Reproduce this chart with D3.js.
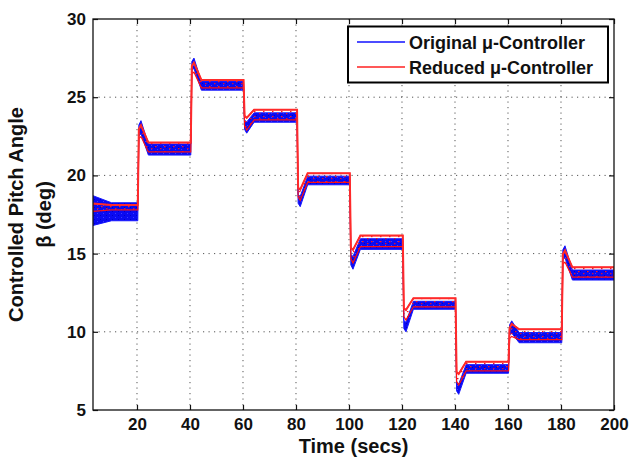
<!DOCTYPE html>
<html>
<head>
<meta charset="utf-8">
<script src="https://cdn.jsdelivr.net/npm/d3@7"></script>
<style>
  html, body { margin: 0; padding: 0; background: #fff; }
  svg text { font-family: "Liberation Sans", Arial, Helvetica, sans-serif; font-weight: bold; fill: #111; }
</style>
</head>
<body>
<svg id="chart" width="631" height="463"></svg>
<script>
// Axis ranges and ticks
const xDomain = [3.4, 200];
const yDomain = [5, 30];
const xTicks = [20, 40, 60, 80, 100, 120, 140, 160, 180, 200];
const yTicks = [5, 10, 15, 20, 25, 30];

// Set-point changes (s): start of every constant segment
const stepTimes = [3.4, 20.3, 40.3, 60.2, 80.4, 100.3, 120.3, 140.2, 160.2, 180.3];

// Original mu-controller: settled oscillation band and transient extreme per segment (deg)
const blueLow     = [17.1, 21.3, 25.45, 23.4, 19.4, 15.27, 11.44, 7.35, 9.3, 13.31];
const blueHigh    = [18.25, 22.0, 26.0, 24.0, 19.95, 15.95, 11.95, 7.9, 9.95, 13.95];
const blueExtreme = [null, 23.5, 27.5, 22.7, 18.0, 14.0, 10.0, 6.0, 10.7, 15.5];
const blueStart   = [16.8, 18.7];

// Reduced mu-controller
const redLow      = [17.8, 21.5, 25.6, 23.55, 19.55, 15.45, 11.6, 7.5, 9.5, 13.5];
const redHigh     = [18.1, 22.1, 26.1, 24.2, 20.13, 16.15, 12.14, 8.09, 10.16, 14.12];
const redExtreme  = [null, 23.2, 27.2, 22.9, 18.4, 14.4, 10.75, 6.6, 10.5, 15.2];
const redStart    = [17.7, 18.2];

const legendLabels = ["Original \u03bc-Controller", "Reduced \u03bc-Controller"];

const svg = d3.select("#chart");
const plot = { left: 93, right: 614, top: 19, bottom: 410 };

const x = d3.scaleLinear().domain(xDomain).range([plot.left, plot.right]);
const y = d3.scaleLinear().domain(yDomain).range([plot.bottom, plot.top]);

// Build the envelope (t, lo, hi) of one response from its segment arrays
function envelope(low, high, extreme, start) {
  const rows = [];
  stepTimes.forEach((t0, i) => {
    const t1 = i < stepTimes.length - 1 ? stepTimes[i + 1] : xDomain[1];
    const w = high[i] - low[i];
    if (i === 0) {
      rows.push({ t: t0, lo: start[0], hi: start[1] });
      rows.push({ t: t0 + 7, lo: low[i], hi: high[i] });
    } else {
      const e = extreme[i];
      if (e > high[i]) {
        rows.push({ t: t0 + 0.4, lo: e - w * 1.4, hi: e - w * 0.4 });
        rows.push({ t: t0 + 1.2, lo: e - w * 1.2, hi: e });
      } else {
        rows.push({ t: t0 + 0.4, lo: e + w * 0.4, hi: e + w * 1.4 });
        rows.push({ t: t0 + 1.2, lo: e, hi: e + w * 1.2 });
      }
      rows.push({ t: t0 + 4, lo: low[i], hi: high[i] });
    }
    rows.push({ t: t1, lo: low[i], hi: high[i] });
  });
  return rows;
}

const area = d3.area()
  .x(d => x(d.t))
  .y0(d => y(d.lo))
  .y1(d => y(d.hi));
const topLine = d3.line().x(d => x(d.t)).y(d => y(d.hi));

const defs = svg.append("defs");
defs.append("clipPath").attr("id", "plotClip")
  .append("rect")
  .attr("x", plot.left).attr("y", plot.top)
  .attr("width", plot.right - plot.left).attr("height", plot.bottom - plot.top);

// speckle textures for the oscillating traces
const bp = defs.append("pattern").attr("id", "blueTex")
  .attr("patternUnits", "userSpaceOnUse").attr("width", 6).attr("height", 4);
bp.append("rect").attr("width", 6).attr("height", 4).attr("fill", "#0a0af2");
bp.append("rect").attr("x", 1).attr("y", 1).attr("width", 1).attr("height", 1).attr("fill", "#3c3cff");
bp.append("rect").attr("x", 4).attr("y", 3).attr("width", 1).attr("height", 1).attr("fill", "#0000c8");

const rp = defs.append("pattern").attr("id", "redTex")
  .attr("patternUnits", "userSpaceOnUse").attr("width", 9).attr("height", 5);
rp.append("rect").attr("x", 2).attr("y", 1).attr("width", 1.5).attr("height", 1.2).attr("fill", "#ff1a1a");
rp.append("rect").attr("x", 7).attr("y", 3).attr("width", 1.5).attr("height", 1.2).attr("fill", "#e01030");

// grid
const grid = svg.append("g").attr("stroke", "#555").attr("stroke-width", 1)
  .attr("stroke-dasharray", "1.2,4.3");
xTicks.filter(v => v < xDomain[1]).forEach(v => {
  grid.append("line").attr("x1", x(v)).attr("x2", x(v))
    .attr("y1", plot.top).attr("y2", plot.bottom);
});
yTicks.filter(v => v > yDomain[0] && v < yDomain[1]).forEach(v => {
  grid.append("line").attr("x1", plot.left).attr("x2", plot.right)
    .attr("y1", y(v)).attr("y2", y(v));
});

// traces
const traces = svg.append("g").attr("clip-path", "url(#plotClip)");
const blueEnv = envelope(blueLow, blueHigh, blueExtreme, blueStart);
const redEnv = envelope(redLow, redHigh, redExtreme, redStart);
traces.append("path")
  .datum(blueEnv)
  .attr("d", area)
  .attr("fill", "url(#blueTex)")
  .attr("stroke", "#1515ff").attr("stroke-width", 1);
traces.append("path")
  .datum(redEnv)
  .attr("d", area)
  .attr("fill", "url(#redTex)")
  .attr("stroke", "#ff1010").attr("stroke-width", 1.2);
traces.append("path")
  .datum(redEnv)
  .attr("d", topLine)
  .attr("fill", "none")
  .attr("stroke", "#ff2a2a").attr("stroke-width", 2);

// axes with inward ticks on all four sides
const fontSize = 17;
const gx = svg.append("g").attr("transform", `translate(0,${plot.bottom})`)
  .call(d3.axisBottom(x).tickValues(xTicks).tickSizeInner(-5).tickSizeOuter(0).tickPadding(8));
const gy = svg.append("g").attr("transform", `translate(${plot.left},0)`)
  .call(d3.axisLeft(y).tickValues(yTicks).tickSizeInner(-5).tickSizeOuter(0).tickPadding(7));
const gt = svg.append("g").attr("transform", `translate(0,${plot.top})`)
  .call(d3.axisTop(x).tickValues(xTicks).tickSizeInner(-5).tickSizeOuter(0).tickFormat(""));
const gr = svg.append("g").attr("transform", `translate(${plot.right},0)`)
  .call(d3.axisRight(y).tickValues(yTicks).tickSizeInner(-5).tickSizeOuter(0).tickFormat(""));
[gx, gy, gt, gr].forEach(g => {
  g.select(".domain").remove();
  g.selectAll(".tick line").attr("stroke", "#111").attr("stroke-width", 1.2);
  g.selectAll("text").attr("font-size", fontSize).attr("fill", "#111")
    .style("font-family", "'Liberation Sans', Arial, sans-serif").style("font-weight", "bold");
});

svg.append("rect")
  .attr("x", plot.left).attr("y", plot.top)
  .attr("width", plot.right - plot.left).attr("height", plot.bottom - plot.top)
  .attr("fill", "none").attr("stroke", "#111").attr("stroke-width", 1.3);

// axis titles
svg.append("text").attr("x", (plot.left + plot.right) / 2).attr("y", 453)
  .attr("text-anchor", "middle").attr("font-size", 20).text("Time (secs)");
const cy = (plot.top + plot.bottom) / 2;
svg.append("text").attr("transform", `translate(23,${cy}) rotate(-90)`)
  .attr("text-anchor", "middle").attr("font-size", 20).text("Controlled Pitch Angle");
svg.append("text").attr("transform", `translate(51,${cy}) rotate(-90)`)
  .attr("text-anchor", "middle").attr("font-size", 20).text("\u03b2 (deg)");

// legend
const lg = svg.append("g");
lg.append("rect").attr("x", 348).attr("y", 26.5).attr("width", 260).attr("height", 56)
  .attr("fill", "#fff").attr("stroke", "#000").attr("stroke-width", 2);
const legendColors = ["#1010ff", "#ff2020"];
legendLabels.forEach((label, i) => {
  const ly = 42 + i * 25;
  lg.append("line").attr("x1", 357).attr("x2", 405).attr("y1", ly).attr("y2", ly)
    .attr("stroke", legendColors[i]).attr("stroke-width", 1.5);
  lg.append("text").attr("x", 409).attr("y", ly + 6.5).attr("font-size", 18).text(label);
});
</script>
</body>
</html>
